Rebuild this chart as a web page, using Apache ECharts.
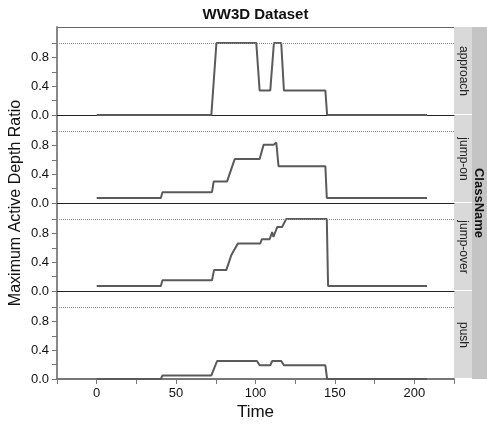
<!DOCTYPE html>
<html>
<head>
<meta charset="utf-8">
<script src="https://cdn.jsdelivr.net/npm/echarts@6/dist/echarts.min.js"></script>
<style>
  html, body { margin: 0; padding: 0; background: #fff; }
  #main { width: 487px; height: 424px; }
</style>
</head>
<body>
<div id="main"></div>
<script>
// 各面板的类别
var classNames = ['approach', 'jump-on', 'jump-over', 'push'];

// 各类别的时间点与取值
var approachT = [0, 72.2, 75.4, 100.5, 102.6, 109.3, 111.6, 116.2, 117.9, 144, 145.1, 208];
var approachV = [0, 0, 1, 1, 0.34, 0.34, 1, 1, 0.34, 0.34, 0, 0];

var jumpOnT = [0, 40.4, 41.4, 72.6, 73.7, 82.1, 86.9, 102.6, 105.1, 111.4, 113.1, 114.5, 144, 144.9, 208];
var jumpOnV = [0.07, 0.07, 0.15, 0.15, 0.30, 0.30, 0.61, 0.61, 0.81, 0.81, 0.84, 0.51, 0.51, 0.07, 0.07];

var jumpOverT = [0, 40.4, 41.4, 72.6, 73.9, 81.6, 84.8, 85.8, 88.9, 103, 104, 108.9, 110.5, 111.3, 113.7, 116.8, 119.3, 144.9, 145.7, 208];
var jumpOverV = [0.07, 0.07, 0.15, 0.15, 0.29, 0.29, 0.50, 0.52, 0.66, 0.66, 0.72, 0.72, 0.82, 0.75, 0.89, 0.89, 1.0, 1.0, 0.07, 0.07];

var pushT = [0, 40.4, 41.4, 72.2, 75.8, 100.9, 102.6, 109.3, 110.5, 116.2, 117.9, 144, 145.1, 208];
var pushV = [0, 0, 0.05, 0.05, 0.25, 0.25, 0.19, 0.19, 0.25, 0.25, 0.19, 0.19, 0, 0];

// 刻度
var yTicks = [0, 0.2, 0.4, 0.6, 0.8, 1.0];
var yTickLabels = [0, 0.4, 0.8];
var xTicks = [-25, 0, 25, 50, 75, 100, 125, 150, 175, 200, 225];
var xTickLabels = [0, 50, 100, 150, 200];

var allT = [approachT, jumpOnT, jumpOverT, pushT];
var allV = [approachV, jumpOnV, jumpOverV, pushV];

var left = 57, plotW = 397, panelH = 88, top0 = 27;
var font = 'Liberation Sans, Arial, Helvetica, sans-serif';

var grids = [], xAxes = [], yAxes = [], series = [], graphics = [];

for (var i = 0; i < 4; i++) {
    var last = i === 3;
    grids.push({ left: left, top: top0 + i * panelH, width: plotW, height: panelH });
    xAxes.push({
        type: 'value', gridIndex: i, min: -25, max: 225,
        axisLine: { show: true, onZero: false, lineStyle: { color: last ? '#777' : '#222', width: last ? 2 : 1 } },
        axisTick: { show: last, customValues: xTicks, length: 5, lineStyle: { color: '#777', width: 1 } },
        axisLabel: { show: last, customValues: xTickLabels, margin: 8, color: '#111', fontSize: 13, fontFamily: font },
        splitLine: { show: false }
    });
    yAxes.push({
        type: 'value', gridIndex: i, min: 0, max: 88 / 72,
        axisLine: { show: true, onZero: false, lineStyle: { color: '#888', width: 2 } },
        axisTick: { show: true, customValues: yTicks, length: 5, lineStyle: { color: '#777', width: 1 } },
        axisLabel: {
            customValues: yTickLabels, margin: 8, color: '#111', fontSize: 13, fontFamily: font,
            formatter: function (v) { return v.toFixed(1); }
        },
        splitLine: { show: false }
    });
    var pts = allT[i].map(function (t, k) { return [t, allV[i][k]]; });
    series.push({
        type: 'line', xAxisIndex: i, yAxisIndex: i, data: pts,
        showSymbol: false, symbol: 'none',
        lineStyle: { color: '#5a5a5a', width: 2 },
        markLine: {
            silent: true, symbol: 'none', label: { show: false },
            lineStyle: { type: 'dotted', color: '#888', width: 1 },
            data: [{ yAxis: 1 }]
        }
    });
    // 右侧分面标签
    graphics.push({
        type: 'rect', shape: { x: left + plotW, y: top0 + i * panelH, width: 18, height: panelH - 1 },
        style: { fill: '#d9d9d9' }
    });
    graphics.push({
        type: 'text', x: left + plotW + 9, y: top0 + i * panelH + panelH / 2, rotation: -Math.PI / 2,
        style: { text: classNames[i], fontSize: 12, fontFamily: font, fill: '#222', align: 'center', verticalAlign: 'middle' }
    });
}

graphics.push({
    type: 'rect', shape: { x: left + plotW + 18, y: top0, width: 15, height: panelH * 4 },
    style: { fill: '#c4c4c4' }
});
graphics.push({
    type: 'text', x: left + plotW + 25, y: top0 + panelH * 2, rotation: -Math.PI / 2,
    style: { text: 'ClassName', fontSize: 13, fontWeight: 'bold', fontFamily: font, fill: '#111', align: 'center', verticalAlign: 'middle' }
});
graphics.push({
    type: 'line', shape: { x1: left, y1: top0 + 0.5, x2: left + plotW, y2: top0 + 0.5 },
    style: { stroke: '#666', lineWidth: 1 }
});
graphics.push({
    type: 'text', x: left + plotW / 2, y: 15,
    style: { text: 'WW3D Dataset', fontSize: 15, fontWeight: 'bold', fontFamily: font, fill: '#111', align: 'center', verticalAlign: 'middle' }
});
graphics.push({
    type: 'text', x: 16, y: top0 + panelH * 2, rotation: Math.PI / 2,
    style: { text: 'Maximum Active Depth Ratio', fontSize: 16, fontFamily: font, fill: '#111', align: 'center', verticalAlign: 'middle' }
});
graphics.push({
    type: 'text', x: left + plotW / 2, y: 412,
    style: { text: 'Time', fontSize: 17, fontFamily: font, fill: '#111', align: 'center', verticalAlign: 'middle' }
});

var myChart = echarts.init(document.getElementById('main'));
myChart.setOption({
    animation: false,
    grid: grids,
    xAxis: xAxes,
    yAxis: yAxes,
    series: series,
    graphic: graphics
});
</script>
</body>
</html>
